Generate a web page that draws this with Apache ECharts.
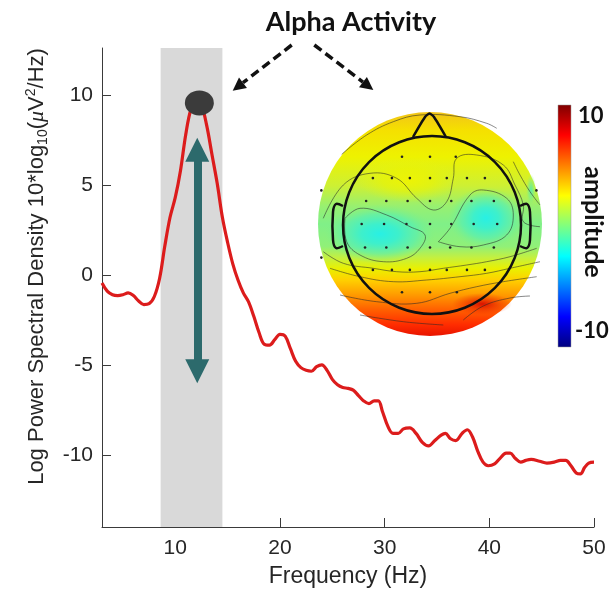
<!DOCTYPE html>
<html>
<head>
<meta charset="utf-8">
<script src="https://cdn.jsdelivr.net/npm/echarts@6/dist/echarts.min.js"></script>
<style>
html, body { margin: 0; padding: 0; background: #fff; }
#chart { width: 615px; height: 596px; }
</style>
</head>
<body>
<div id="chart"></div>
<script>
// spectrum (Hz -> dB)
const freq = [3, 3.5, 4, 4.5, 5, 5.5, 6, 6.5, 7, 7.5, 8, 8.5, 9, 9.5, 10, 10.5, 11, 11.5, 12, 12.5,
	13, 13.5, 14, 14.5, 15, 15.5, 16, 16.5, 17, 17.5, 18, 18.5, 19, 19.5, 20, 20.5, 21, 21.5, 22, 22.5,
	23, 23.5, 24, 24.5, 25, 25.5, 26, 26.5, 27, 27.5, 28, 28.5, 29, 29.4, 29.8, 30.3, 30.8, 31.3, 31.8, 32.4,
	33, 33.6, 34.2, 34.8, 35.4, 35.8, 36.3, 36.8, 37.4, 37.9, 38.4, 38.9, 39.4, 39.9, 40.5, 41, 41.6, 42, 42.5, 43,
	43.5, 44, 44.8, 45.5, 46.2, 46.8, 47.3, 47.8, 48.3, 48.7, 49.1, 49.5, 50]
const psd = [-0.45, -0.9, -1.1, -1.15, -1.1, -1.0, -1.15, -1.45, -1.65, -1.6, -1.2, -0.2, 1.6, 3.2, 4.3, 5.8, 7.8, 9.2, 9.6, 9.4,
	8.3, 6.7, 5.1, 3.2, 1.8, 0.6, -0.3, -1.0, -1.5, -2.3, -3.2, -3.85, -3.9, -3.6, -3.3, -3.4, -4.1, -4.8, -5.15, -5.3,
	-5.35, -5.1, -5.0, -5.3, -5.8, -6.1, -6.25, -6.3, -6.4, -6.7, -7.0, -7.15, -7.0, -7.0, -7.6, -8.4, -8.8, -8.8, -8.55, -8.5,
	-8.8, -9.3, -9.5, -9.2, -8.9, -8.8, -9.1, -9.2, -8.8, -8.6, -9.0, -9.8, -10.4, -10.6, -10.5, -10.2, -9.9, -9.9, -10.2, -10.4,
	-10.3, -10.25, -10.35, -10.45, -10.4, -10.3, -10.3, -10.6, -11.0, -11.05, -10.7, -10.45, -10.4]

const xTicks = [10, 20, 30, 40, 50]
const yTicks = [-10, -5, 0, 5, 10]
const alphaBand = [8.6, 14.5]
const peak = [12.3, 9.55]
const arrowX = 12.1
const arrowEnds = [6.95, -5.35]

// electrode positions, head-normalised (-1..1)
const elecX = [-0.25, 0, 0.23,
	-0.51, -0.34, -0.18, 0, 0.15, 0.33, 0.49,
	-0.57, -0.39, -0.2, 0, 0.19, 0.37, 0.57,
	-0.61, -0.41, -0.21, 0, 0.19, 0.39, 0.6,
	-0.58, -0.39, -0.2, 0, 0.18, 0.37, 0.57,
	-0.51, -0.34, -0.18, 0, 0.15, 0.33, 0.49,
	-0.25, 0, 0.24,
	-0.97, -0.97, 0.95]
const elecY = [0.6, 0.6, 0.6,
	0.41, 0.41, 0.41, 0.41, 0.41, 0.41, 0.41,
	0.205, 0.205, 0.205, 0.205, 0.205, 0.205, 0.205,
	0, 0, 0, 0, 0, 0, 0,
	-0.21, -0.21, -0.21, -0.21, -0.21, -0.21, -0.21,
	-0.41, -0.41, -0.41, -0.41, -0.41, -0.41, -0.41,
	-0.61, -0.61, -0.61,
	0.3, -0.3, 0.3]

const cbarLabels = ["10", "-10"]
const jet = ["#7f0000", "#ff0000", "#ffff00", "#00ffff", "#0000ff", "#00007f"]

const lineData = freq.map((f, i) => [f, psd[i]])
const elecData = elecX.map((x, i) => [x, elecY[i]])

const chart = echarts.init(document.getElementById("chart"))

const axisColor = "#3a3a3a"
const textColor = "#262626"
const boldFont = "Lato"

function dashedArrow(from, to) {
	const dx = to[0] - from[0]
	const dy = to[1] - from[1]
	const len = Math.sqrt(dx * dx + dy * dy)
	const ux = dx / len
	const uy = dy / len
	const hl = 13
	const hw = 6.5
	const bx = to[0] - ux * hl
	const by = to[1] - uy * hl
	return [
		{
			type: "line",
			shape: { x1: from[0], y1: from[1], x2: bx, y2: by },
			style: { stroke: "#111", lineWidth: 3.5, lineDash: [9, 5] }
		},
		{
			type: "polygon",
			shape: { points: [to, [bx - uy * hw, by + ux * hw], [bx + uy * hw, by - ux * hw]] },
			style: { fill: "#111" }
		}
	]
}

// topomap decoration (drawn as an image-like background)
const cx = 430, cy = 224, R = 112
function blob(x, y, r, sx, sy, stops) {
	return {
		type: "circle",
		x: x, y: y, scaleX: sx, scaleY: sy,
		shape: { cx: 0, cy: 0, r: r },
		style: {
			fill: new echarts.graphic.RadialGradient(0.5, 0.5, 0.5,
				stops.map((c, i) => ({ offset: i / (stops.length - 1), color: c })))
		},
		z: 1
	}
}
function contour(points) {
	return {
		type: "polyline",
		shape: { points: points, smooth: 0.4 },
		style: { stroke: "rgba(40,40,40,0.7)", lineWidth: 0.8, fill: null },
		z: 2
	}
}

const cyanStops = ["rgba(40,240,228,1)", "rgba(55,240,210,0.92)", "rgba(80,240,185,0.6)", "rgba(120,240,140,0)"]
const topo = [
	{
		type: "circle",
		shape: { cx: cx, cy: cy, r: R },
		style: {
			fill: new echarts.graphic.LinearGradient(0, 0, 0, 1, [
				{ offset: 0, color: "#f2c419" },
				{ offset: 0.08, color: "#f5e000" },
				{ offset: 0.2, color: "#eef200" },
				{ offset: 0.33, color: "#cdf034" },
				{ offset: 0.42, color: "#98f070" },
				{ offset: 0.5, color: "#80f088" },
				{ offset: 0.6, color: "#90f078" },
				{ offset: 0.65, color: "#c4f040" },
				{ offset: 0.7, color: "#eaf000" },
				{ offset: 0.75, color: "#ffd000" },
				{ offset: 0.81, color: "#ffa000" },
				{ offset: 0.88, color: "#ff6200" },
				{ offset: 0.95, color: "#ff2c00" },
				{ offset: 1, color: "#e81400" }
			])
		},
		z: 0
	},
	blob(408, 180, 30, 1.7, 0.75, ["rgba(240,244,0,0.9)", "rgba(236,244,0,0.6)", "rgba(230,244,20,0)"]),
	blob(380, 234, 38, 1.45, 0.78, cyanStops),
	blob(486, 218, 36, 1.05, 0.85, cyanStops),
	blob(531, 190, 10, 0.5, 1.6, ["rgba(80,235,180,0.9)", "rgba(100,240,160,0.5)", "rgba(150,240,110,0)"]),
	blob(482, 304, 20, 1.5, 0.55, ["rgba(210,0,0,0.85)", "rgba(225,10,0,0.4)", "rgba(235,25,0,0)"]),
	contour([[341.7, 154.3], [366.7, 135], [393.3, 121.7], [420, 115], [460, 116.7], [486.7, 123.3], [496.7, 128.3]]),
	contour([[345, 218.3], [360, 208.3], [386.7, 215], [410, 226.7], [425, 235], [420, 248.3], [406.7, 258.3], [383.3, 261.7], [360, 255], [346.7, 241.7], [345, 218.3]]),
	contour([[438.3, 241.7], [450, 228.3], [470, 195], [483.3, 190], [506.7, 198.3], [513.3, 215], [506.7, 235], [483.3, 245], [460, 246.7], [438.3, 241.7]]),
	contour([[323.3, 218.3], [343.3, 185], [370, 173.3], [396.7, 178.3], [416.7, 198.3], [433.3, 210], [446.7, 201.7], [453.3, 178.3], [456.7, 158.3], [476.7, 155], [503.3, 165], [515, 185], [523.3, 205], [523.3, 221.7], [540, 226.7]]),
	contour([[323.3, 251.7], [343.3, 263.3], [373.3, 268.3], [396.7, 271.7], [420, 271.7], [443.3, 268.3], [466.7, 265], [486.7, 261.7], [510, 256.7], [536.7, 248.3]]),
	contour([[330, 268.3], [360, 276.7], [393.3, 281.7], [426.7, 280], [460, 276.7], [486.7, 273.3], [510, 268.3], [540, 261.7]]),
	contour([[340, 295], [376.7, 301.7], [416.7, 303.3], [450, 293.3], [476.7, 286.7], [503.3, 281.7], [536.7, 276.7]]),
	contour([[360, 315], [403.3, 321.7], [443.3, 325]]),
	contour([[463.3, 320], [483.3, 306], [510, 298], [530, 296]]),
	contour([[513.3, 161.7], [520, 175], [530, 191.7], [540, 205]]),
	{
		type: "circle",
		shape: { cx: 432, cy: 225, r: 89 },
		style: { stroke: "#111", lineWidth: 2.5, fill: null },
		z: 4
	},
	{
		type: "polyline",
		shape: { points: [[413, 137], [425, 117], [429.5, 113.5], [434, 117], [446, 137]], smooth: 0.2 },
		style: { stroke: "#111", lineWidth: 2.5, fill: null },
		z: 4
	},
	{
		type: "polyline",
		shape: { points: [[343, 206], [336, 204], [333, 212], [333, 240], [336, 248], [343, 246]], smooth: 0.3 },
		style: { stroke: "#111", lineWidth: 2.5, fill: null },
		z: 4
	},
	{
		type: "polyline",
		shape: { points: [[520, 206], [527, 204], [530, 212], [530, 240], [527, 248], [520, 246]], smooth: 0.3 },
		style: { stroke: "#111", lineWidth: 2.5, fill: null },
		z: 4
	}
]

const colorbar = [
	{
		type: "rect",
		shape: { x: 558, y: 105, width: 13, height: 242 },
		style: {
			fill: new echarts.graphic.LinearGradient(0, 0, 0, 1, jet.map((c, i) => ({ offset: [0, 0.125, 0.375, 0.625, 0.875, 1][i], color: c }))),
			stroke: "#999",
			lineWidth: 0.5
		}
	},
	{
		type: "text",
		x: 578, y: 116,
		style: { text: cbarLabels[0], font: "bold 22px " + boldFont, fill: "#111", verticalAlign: "middle" }
	},
	{
		type: "text",
		x: 575, y: 331,
		style: { text: cbarLabels[1], font: "bold 22px " + boldFont, fill: "#111", verticalAlign: "middle" }
	},
	{
		type: "text",
		x: 593, y: 222, rotation: -Math.PI / 2,
		style: { text: "amplitude", font: "bold 25px " + boldFont, fill: "#111", align: "center", verticalAlign: "middle" }
	}
]

const option = {
	backgroundColor: "#fff",
	animation: false,
	grid: [
		{ left: 102, right: 21, top: 48, bottom: 69 },
		{ left: 318, top: 112, width: 224, height: 224 }
	],
	xAxis: [
		{
			type: "value",
			min: 3,
			max: 50,
			name: "Frequency (Hz)",
			nameLocation: "middle",
			nameGap: 38,
			nameTextStyle: { fontSize: 23, color: textColor, fontFamily: "Liberation Sans" },
			axisLine: { onZero: false, lineStyle: { color: axisColor, width: 1 } },
			axisTick: { inside: true, length: 9, customValues: xTicks, lineStyle: { color: axisColor } },
			axisLabel: { customValues: xTicks, fontSize: 21, color: textColor, fontFamily: "Liberation Sans", margin: 11 },
			splitLine: { show: false }
		},
		{ gridIndex: 1, type: "value", min: -1, max: 1, show: false }
	],
	yAxis: [
		{
			type: "value",
			min: -14,
			max: 12.6,
			name: "Log Power Spectral Density 10*log{sub|10}({mu|μ}V{sup|2}/Hz)",
			nameLocation: "middle",
			nameGap: 52,
			nameTextStyle: {
				fontSize: 22,
				lineHeight: 26,
				color: textColor,
				fontFamily: "Liberation Sans",
				padding: [0, 0, 0, 42],
				rich: {
					sub: { fontSize: 14, lineHeight: 14, verticalAlign: "bottom", color: textColor, fontFamily: "Liberation Sans" },
					sup: { fontSize: 14, lineHeight: 14, verticalAlign: "top", color: textColor, fontFamily: "Liberation Sans" },
					mu: { fontSize: 22, fontStyle: "italic", color: textColor, fontFamily: "Liberation Serif" }
				}
			},
			axisLine: { show: true, onZero: false, lineStyle: { color: axisColor, width: 1 } },
			axisTick: { show: true, inside: true, length: 9, customValues: yTicks, lineStyle: { color: axisColor } },
			axisLabel: { customValues: yTicks, fontSize: 21, color: textColor, fontFamily: "Liberation Sans", margin: 9 },
			splitLine: { show: false }
		},
		{ gridIndex: 1, type: "value", min: -1, max: 1, show: false }
	],
	graphic: [
		{
			type: "text",
			x: 351, y: 22,
			style: { text: "Alpha Activity", font: "bold 27px " + boldFont, fill: "#111", align: "center", verticalAlign: "middle" }
		},
		...dashedArrow([291.7, 45], [232.7, 90.7]),
		...dashedArrow([314.3, 45], [373.3, 90]),
		...topo,
		...colorbar
	],
	series: [
		{
			type: "line",
			data: lineData,
			showSymbol: false,
			smooth: 0.35,
			lineStyle: { color: "#dc1c1c", width: 3.2 },
			z: 3,
			markArea: {
				silent: true,
				itemStyle: { color: "#d9d9d9", opacity: 1 },
				data: [[{ xAxis: alphaBand[0] }, { xAxis: alphaBand[1] }]]
			}
		},
		{
			type: "scatter",
			data: [peak],
			symbol: "circle",
			symbolSize: [29, 25],
			itemStyle: { color: "#3b3b3b", opacity: 1 },
			z: 6
		},
		{
			type: "lines",
			coordinateSystem: "cartesian2d",
			data: [{ coords: [[arrowX, arrowEnds[0]], [arrowX, arrowEnds[1]]] }],
			symbol: ["triangle", "triangle"],
			symbolSize: 24,
			lineStyle: { color: "#2c6a6c", width: 8, opacity: 1 },
			z: 5
		},
		{
			type: "scatter",
			xAxisIndex: 1,
			yAxisIndex: 1,
			data: elecData,
			symbolSize: 2.6,
			itemStyle: { color: "#222", opacity: 1 },
			z: 3
		}
	]
}

chart.setOption(option)
window.addEventListener("resize", () => chart.resize())
</script>
</body>
</html>
